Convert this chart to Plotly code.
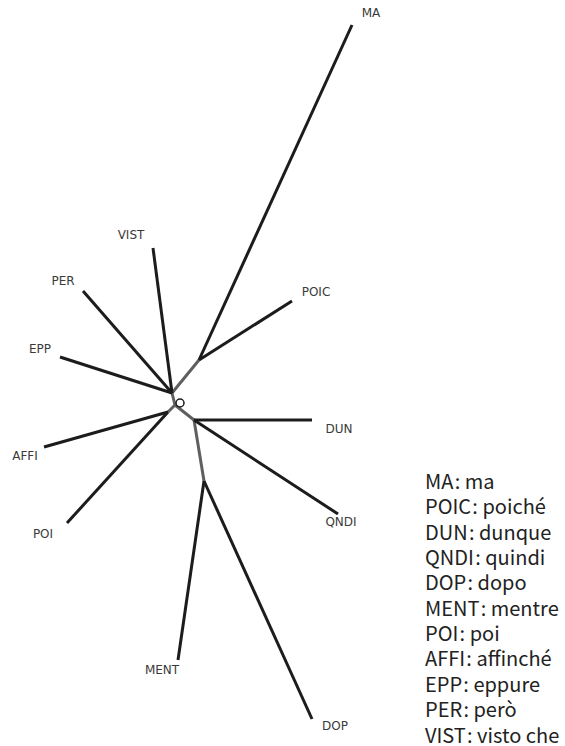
import plotly.graph_objects as go

# Tree layout (node positions in the drawing's coordinate space)
node_names = ["N1", "N2", "N3", "N4", "N5", "N6",
              "MA", "POIC", "DUN", "QNDI", "DOP", "MENT", "POI", "AFFI", "EPP", "PER", "VIST"]
node_x = [172, 199, 175, 168, 194, 204,
          352, 292, 312, 338, 312, 178, 67, 44, 60, 83, 153]
node_y = [393, 360, 405, 412, 420, 481,
          25, 301, 420, 514, 719, 660, 523, 447, 357, 291, 248]

internal_edges = [("N1", "N2"), ("N1", "N3"), ("N3", "N4"), ("N3", "N5"), ("N5", "N6")]
leaf_edges = [("N2", "MA"), ("N2", "POIC"), ("N5", "DUN"), ("N5", "QNDI"),
              ("N6", "DOP"), ("N6", "MENT"), ("N4", "POI"), ("N4", "AFFI"),
              ("N1", "EPP"), ("N1", "PER"), ("N1", "VIST")]

leaf_labels = ["MA", "POIC", "DUN", "QNDI", "DOP", "MENT", "POI", "AFFI", "EPP", "PER", "VIST"]
label_x = [371, 316, 339, 341, 335, 162, 43, 25, 40, 63, 131]
label_y = [14, 293, 430, 523, 727, 671, 535, 457, 350, 282, 236]

legend_codes = ["MA", "POIC", "DUN", "QNDI", "DOP", "MENT", "POI", "AFFI", "EPP", "PER", "VIST"]
legend_words = ["ma", "poiché", "dunque", "quindi", "dopo", "mentre", "poi", "affinché",
                "eppure", "però", "visto che"]

pos = {n: (x, y) for n, x, y in zip(node_names, node_x, node_y)}


def seg(edges):
    xs, ys = [], []
    for a, b in edges:
        xs += [pos[a][0], pos[b][0], None]
        ys += [pos[a][1], pos[b][1], None]
    return xs, ys


fig = go.Figure()
ix, iy = seg(internal_edges)
fig.add_trace(go.Scatter(x=ix, y=iy, mode="lines",
                         line=dict(color="#5f5f5f", width=3), hoverinfo="skip"))
lx, ly = seg(leaf_edges)
fig.add_trace(go.Scatter(x=lx, y=ly, mode="lines",
                         line=dict(color="#1c1c1c", width=3), hoverinfo="skip"))
# small root marker
fig.add_trace(go.Scatter(x=[180], y=[403], mode="markers",
                         marker=dict(symbol="circle-open", size=8, color="#1c1c1c",
                                     line=dict(color="#1c1c1c", width=1.5)),
                         hoverinfo="skip"))
fig.add_trace(go.Scatter(x=label_x, y=label_y, mode="text", text=leaf_labels,
                         textposition="middle center", cliponaxis=False,
                         textfont=dict(family="DejaVu Sans", size=12, color="#3a3a3a"),
                         hoverinfo="skip"))

legend_text = "<br>".join(
    f"<span style='font-size:20px'>{c}\u200a: {w}</span>"
    for c, w in zip(legend_codes, legend_words))
fig.add_annotation(x=423, y=607.5, xref="x", yref="y",
                   text=legend_text, showarrow=False, align="left",
                   xanchor="left", yanchor="middle",
                   font=dict(family="Noto Sans CJK SC", size=19.5, color="#222222"))

fig.update_layout(
    width=565, height=746,
    margin=dict(l=0, r=0, t=0, b=0),
    paper_bgcolor="white", plot_bgcolor="white",
    showlegend=False,
    xaxis=dict(range=[0, 565], visible=False, fixedrange=True),
    yaxis=dict(range=[746, 0], visible=False, fixedrange=True),
)
fig.write_html(
    "out.html",
    config={"displayModeBar": False},
    post_script="document.body.style.margin='0';document.body.style.overflow='hidden';",
)
